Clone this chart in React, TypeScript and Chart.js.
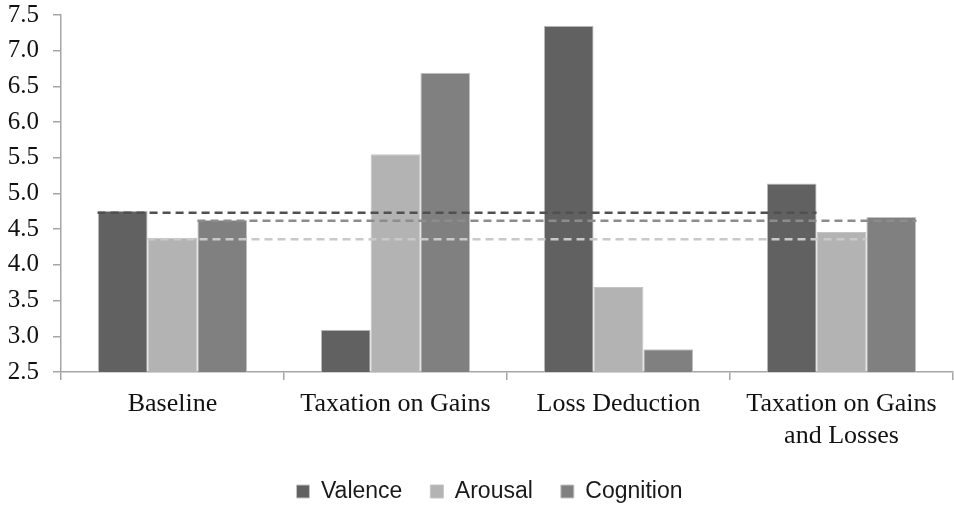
import React, { useEffect, useRef } from "react";
import { Chart, registerables } from "chart.js";

Chart.register(...registerables);

const categories: (string | string[])[] = [
  "Baseline",
  "Taxation on Gains",
  "Loss Deduction",
  ["Taxation on Gains", "and Losses"],
];
const seriesNames = ["Valence", "Arousal", "Cognition"];
const valence = [4.76, 3.09, 7.35, 5.14];
const arousal = [4.38, 5.55, 3.69, 4.46];
const cognition = [4.63, 6.69, 2.82, 4.67];
// baseline reference levels (dashed lines)
const refLevels = [4.73, 4.36, 4.62];
// start / end of each dashed line in category units
const refStart = [-0.336, -0.112, 0.112];
const refEnd = [2.888, 3.112, 3.336];
const yTicksMin = 2.5;
const yTicksMax = 7.5;
const yStep = 0.5;

const barColors = ["#616161", "#b3b3b3", "#808080"];
const lineColors = ["#505050", "#c9c9c9", "#8c8c8c"];

const refLinesPlugin = {
  id: "refLines",
  afterDatasetsDraw(chart: any) {
    const { ctx, scales, chartArea } = chart;
    const xs = scales.x;
    const ys = scales.y;
    ctx.save();
    ctx.beginPath();
    ctx.rect(chartArea.left, chartArea.top, chartArea.right - chartArea.left, chartArea.bottom - chartArea.top);
    ctx.clip();
    ctx.lineWidth = 2.5;
    ctx.setLineDash([8, 5]);
    for (let i = 0; i < refLevels.length; i++) {
      const y = ys.getPixelForValue(refLevels[i]);
      ctx.strokeStyle = lineColors[i];
      ctx.beginPath();
      ctx.moveTo(xs.getPixelForValue(refStart[i]), y);
      ctx.lineTo(xs.getPixelForValue(refEnd[i]), y);
      ctx.stroke();
    }
    ctx.restore();
  },
};

// the legend in the reference sits a little right of centre
const legendShiftPlugin = {
  id: "legendShift",
  afterLayout(chart: any) {
    if (chart.legend) {
      chart.legend.left += 13;
      chart.legend.right += 13;
    }
  },
};

export default function App() {
  const ref = useRef<HTMLCanvasElement | null>(null);

  useEffect(() => {
    document.body.style.margin = "0";
    if (!ref.current) return;
    const values = [valence, arousal, cognition];
    const barSets = seriesNames.map((name, i) => ({
      label: name,
      data: values[i],
      backgroundColor: barColors[i],
      borderColor: "#c4c4c4",
      borderWidth: 1,
      categoryPercentage: 0.67,
      barPercentage: 1.0,
    }));

    const chart = new Chart(ref.current, {
      type: "bar",
      data: {
        labels: categories,
        datasets: barSets,
      },
      plugins: [refLinesPlugin, legendShiftPlugin],
      options: {
        animation: false,
        responsive: true,
        maintainAspectRatio: false,
        layout: { padding: { top: 15, right: 1, bottom: -8, left: 0 } },
        plugins: {
          tooltip: { enabled: false },
          legend: {
            position: "bottom",
            labels: {
              boxWidth: 13,
              boxHeight: 13,
              padding: 28,
              color: "#1a1a1a",
              font: { family: "Liberation Sans", size: 23 },
            },
          },
        },
        scales: {
          x: {
            type: "category",
            offset: true,
            grid: {
              display: true,
              offset: true,
              drawOnChartArea: false,
              drawTicks: true,
              tickLength: 8,
              color: "#a6a6a6",
              lineWidth: 1.5,
            },
            border: { display: true, color: "#a6a6a6", width: 1.5 },
            ticks: {
              color: "#111",
              padding: 9,
              maxRotation: 0,
              autoSkip: false,
              font: { family: "Liberation Serif", size: 26, lineHeight: 1.2 },
            },
            afterFit: (s: any) => {
              s.height = 80;
              s.paddingLeft = 0;
              s.paddingRight = 0;
            },
          },
          y: {
            type: "linear",
            min: yTicksMin,
            max: yTicksMax,
            grid: {
              display: true,
              drawOnChartArea: false,
              drawTicks: true,
              tickLength: 8,
              color: "#a6a6a6",
              lineWidth: 1.5,
            },
            border: { display: true, color: "#a6a6a6", width: 1.5 },
            ticks: {
              stepSize: yStep,
              color: "#111",
              padding: 14,
              font: { family: "Liberation Serif", size: 25 },
              callback: (v: any) => Number(v).toFixed(1),
            },
            afterFit: (s: any) => {
              s.width = 61;
              s.paddingTop = 0;
              s.paddingBottom = 0;
            },
          },
        },
      } as any,
    });
    return () => chart.destroy();
  }, []);

  return (
    <div style={{ width: 954, height: 505, position: "relative" }}>
      <canvas ref={ref} />
    </div>
  );
}
